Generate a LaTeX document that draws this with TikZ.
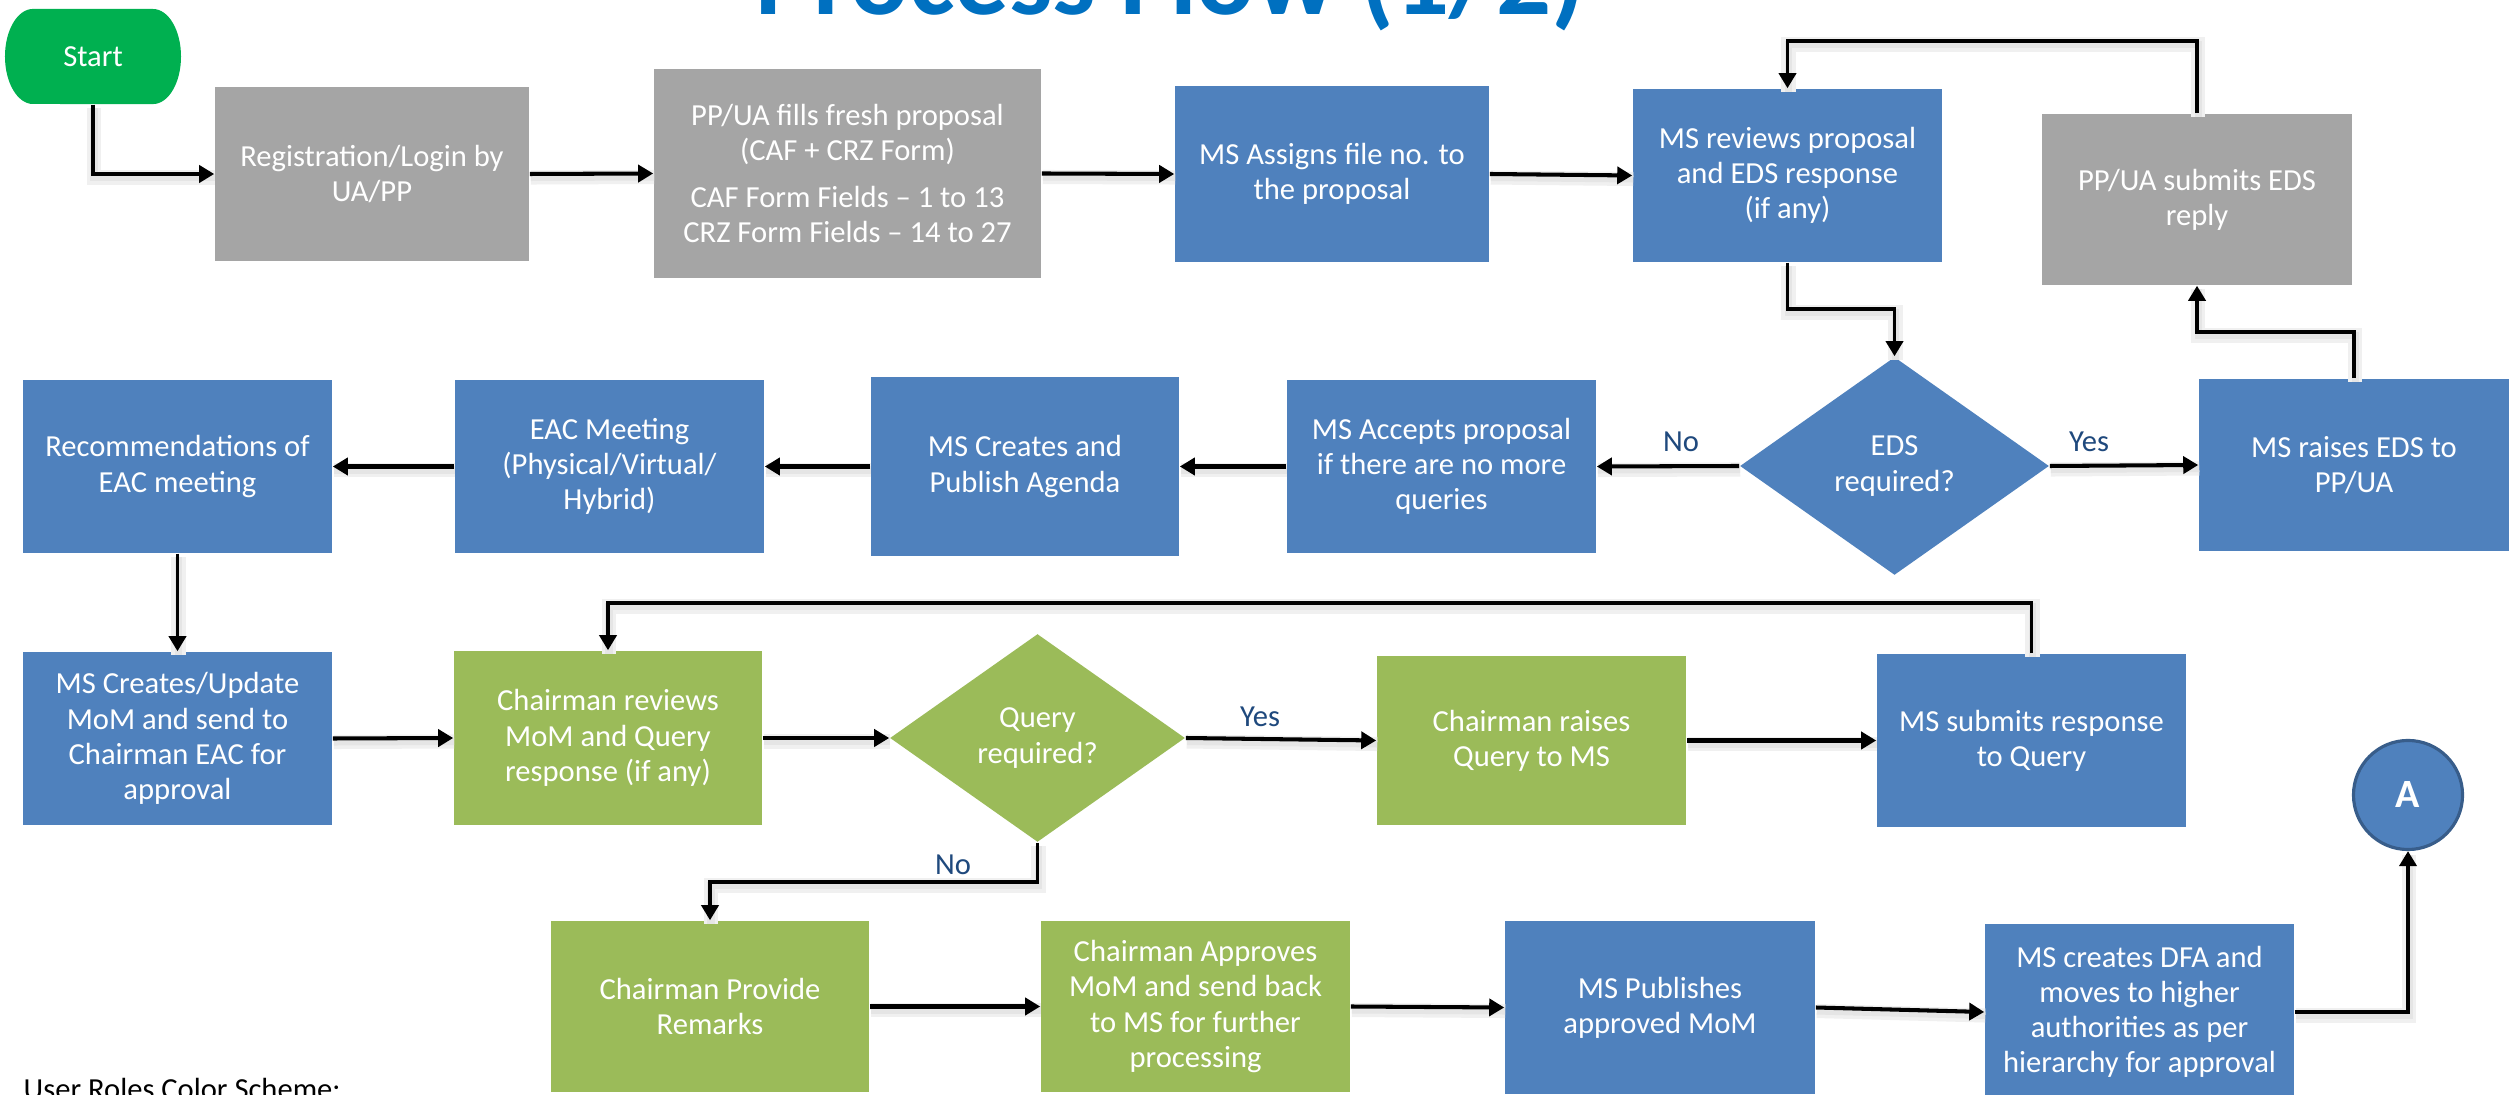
\documentclass[tikz,border=0pt]{standalone}
\usepackage{fontspec}
\setmainfont{Carlito}
\usetikzlibrary{arrows.meta,shapes.geometric}
\definecolor{boxblue}{HTML}{4F81BD}
\definecolor{boxgray}{HTML}{A5A5A5}
\definecolor{boxgreen}{HTML}{9BBB59}
\definecolor{startgreen}{HTML}{00B050}
\definecolor{titleblue}{HTML}{0070C0}
\definecolor{labelblue}{HTML}{1F497D}
\definecolor{ringblue}{HTML}{385D8A}
\tikzset{
  box/.style={rectangle, inner sep=0pt, text=white, align=center, font=\fontsize{8.7}{10}\selectfont},
  bluebox/.style={box, fill=boxblue},
  graybox/.style={box, fill=boxgray},
  greenbox/.style={box, fill=boxgreen},
  dia/.style={diamond, inner sep=0pt, text=white, align=center, font=\fontsize{8.7}{10}\selectfont},
  bluediamond/.style={dia, fill=boxblue},
  greendiamond/.style={dia, fill=boxgreen},
  conn/.style={circle, fill=boxblue, draw=ringblue, line width=0.9pt, minimum size=1.09cm, inner sep=0pt, text=white, font=\bfseries\fontsize{11.4}{13}\selectfont},
  lbl/.style={inner sep=0pt, text=labelblue, font=\fontsize{8.7}{10}\selectfont},
  shade/.style={preaction={draw=black!6, line width=4pt, -, transform canvas={shift={(0.01cm,-0.035cm)}}},
                preaction={draw=black!10, line width=2pt, -, transform canvas={shift={(0.01cm,-0.035cm)}}}},
  arr/.style={shade, -{Triangle[length=0.15cm,width=0.17cm]}, line width=1.15pt},
  thinarr/.style={shade, -{Triangle[length=0.15cm,width=0.17cm]}, line width=1.0pt}
}
\begin{document}
\begin{tikzpicture}[x=0.01cm, y=-0.01cm]
\useasboundingbox (0,0) rectangle (2509,1095);
\clip (0,0) rectangle (2509,1095);
\fill[white] (0,0) rectangle (2509,1095);

% title (cut at top)
\node[anchor=base, inner sep=0pt, text=titleblue, font=\bfseries\fontsize{30.9}{36}\selectfont] (title) at (1170.5,15) {Process Flow (1/2)};

% start terminator
\fill[startgreen] (33,9) -- (153,9) arc[start angle=90, end angle=-90, x radius=0.28cm, y radius=0.475cm] -- (33,104) arc[start angle=270, end angle=90, x radius=0.28cm, y radius=0.475cm] -- cycle;
\node[box, minimum width=1.76cm, minimum height=0.95cm] (start) at (93,56.5) {Start};

% row 1
\node[graybox, minimum width=3.14cm, minimum height=1.74cm] (reg) at (372,174) {Registration/Login by\\UA/PP};
\node[graybox, minimum width=3.87cm, minimum height=2.09cm] (fill) at (847.5,173.5) {PP/UA fills fresh proposal\\(CAF + CRZ Form)\\[0.12cm]CAF Form Fields – 1 to 13\\CRZ Form Fields – 14 to 27};
\node[bluebox, minimum width=3.14cm, minimum height=1.76cm] (assign) at (1332,174) {MS Assigns file no. to\\the proposal};
\node[bluebox, minimum width=3.09cm, minimum height=1.73cm] (review) at (1787.5,175.5) {MS reviews proposal\\and EDS response\\(if any)};
\node[graybox, minimum width=3.10cm, minimum height=1.71cm] (submit) at (2197,199.5) {PP/UA submits EDS\\reply};

% row 2
\node[bluediamond, minimum width=3.09cm, minimum height=2.18cm] (eds) at (1894.5,466) {EDS\\required?};
\node[bluebox, minimum width=3.10cm, minimum height=1.72cm] (raise) at (2354,465) {MS raises EDS to\\PP/UA};
\node[bluebox, minimum width=3.09cm, minimum height=1.73cm] (accept) at (1441.5,466.5) {MS Accepts proposal\\if there are no more\\queries};
\node[bluebox, minimum width=3.08cm, minimum height=1.79cm] (agenda) at (1025,466.5) {MS Creates and\\Publish Agenda};
\node[bluebox, minimum width=3.09cm, minimum height=1.73cm] (eac) at (609.5,466.5) {EAC Meeting\\(Physical/Virtual/\\Hybrid)};
\node[bluebox, minimum width=3.09cm, minimum height=1.73cm] (recom) at (177.5,466.5) {Recommendations of\\EAC meeting};

% row 3
\node[bluebox, minimum width=3.09cm, minimum height=1.73cm] (mom) at (177.5,738.5) {MS Creates/Update\\MoM and send to\\Chairman EAC for\\approval};
\node[greenbox, minimum width=3.08cm, minimum height=1.74cm] (creview) at (608,738) {Chairman reviews\\MoM and Query\\response (if any)};
\node[greendiamond, minimum width=2.95cm, minimum height=2.08cm] (query) at (1037.5,738) {Query\\required?};
\node[greenbox, minimum width=3.09cm, minimum height=1.69cm] (craise) at (1531.5,740.5) {Chairman raises\\Query to MS};
\node[bluebox, minimum width=3.09cm, minimum height=1.73cm] (msub) at (2031.5,740.5) {MS submits response\\to Query};
\node[conn] (A) at (2408,795) {A};

% row 4
\node[greenbox, minimum width=3.18cm, minimum height=1.71cm] (remarks) at (710,1006.5) {Chairman Provide\\Remarks};
\node[greenbox, minimum width=3.09cm, minimum height=1.71cm] (approve) at (1195.5,1006.5) {Chairman Approves\\MoM and send back\\to MS for further\\processing};
\node[bluebox, minimum width=3.10cm, minimum height=1.73cm] (publish) at (1660,1007.5) {MS Publishes\\approved MoM};
\node[bluebox, minimum width=3.09cm, minimum height=1.76cm] (dfa) at (2139.5,1012) {MS creates DFA and\\moves to higher\\authorities as per\\hierarchy for approval};

% legend (cut at bottom, as in the reference)
\node[anchor=base west, inner sep=0pt, text=black, font=\fontsize{8.7}{10}\selectfont] (legend) at (23,1099) {User Roles Color Scheme:};

% connectors
\coordinate (e1) at (1894.5,309);
\coordinate (e2) at (2197,332);
\coordinate (e3) at (1787.5,41);
\coordinate (e4) at (608,603);
\coordinate (e5) at (1037.5,882);

\draw[arr] (start.south) |- (reg.west);
\draw[arr] (reg.east) -- (fill.west);
\draw[arr] (fill.east) -- (assign.west);
\draw[arr] (assign.east) -- (review.west);
\draw[thinarr] (review.south) |- (e1) -- (eds.north);
\draw[arr] (eds.west) -- (accept.east);
\draw[arr] (eds.east) -- (raise.west);
\draw[thinarr] (raise.north) |- (e2) -- (submit.south);
\draw[thinarr] (submit.north) |- (e3) -- (review.north);
\draw[arr] (accept.west) -- (agenda.east);
\draw[arr] (agenda.west) -- (eac.east);
\draw[arr] (eac.west) -- (recom.east);
\draw[thinarr] (recom.south) -- (mom.north);
\draw[arr] (mom.east) -- (creview.west);
\draw[arr] (creview.east) -- (query.west);
\draw[arr] (query.east) -- (craise.west);
\draw[arr] (craise.east) -- (msub.west);
\draw[thinarr] (msub.north) |- (e4) -- (creview.north);
\draw[thinarr] (query.south) -- (e5) -| (remarks.north);
\draw[arr] (remarks.east) -- (approve.west);
\draw[arr] (approve.east) -- (publish.west);
\draw[arr] (publish.east) -- (dfa.west);
\draw[arr] (dfa.east) -| (A.south);

% labels
\node[lbl, anchor=base] (no1) at (1681,452) {No};
\node[lbl, anchor=base] (yes1) at (2089,452) {Yes};
\node[lbl, anchor=base] (yes2) at (1260,727) {Yes};
\node[lbl, anchor=base] (no2) at (953,875) {No};
\end{tikzpicture}
\end{document}
